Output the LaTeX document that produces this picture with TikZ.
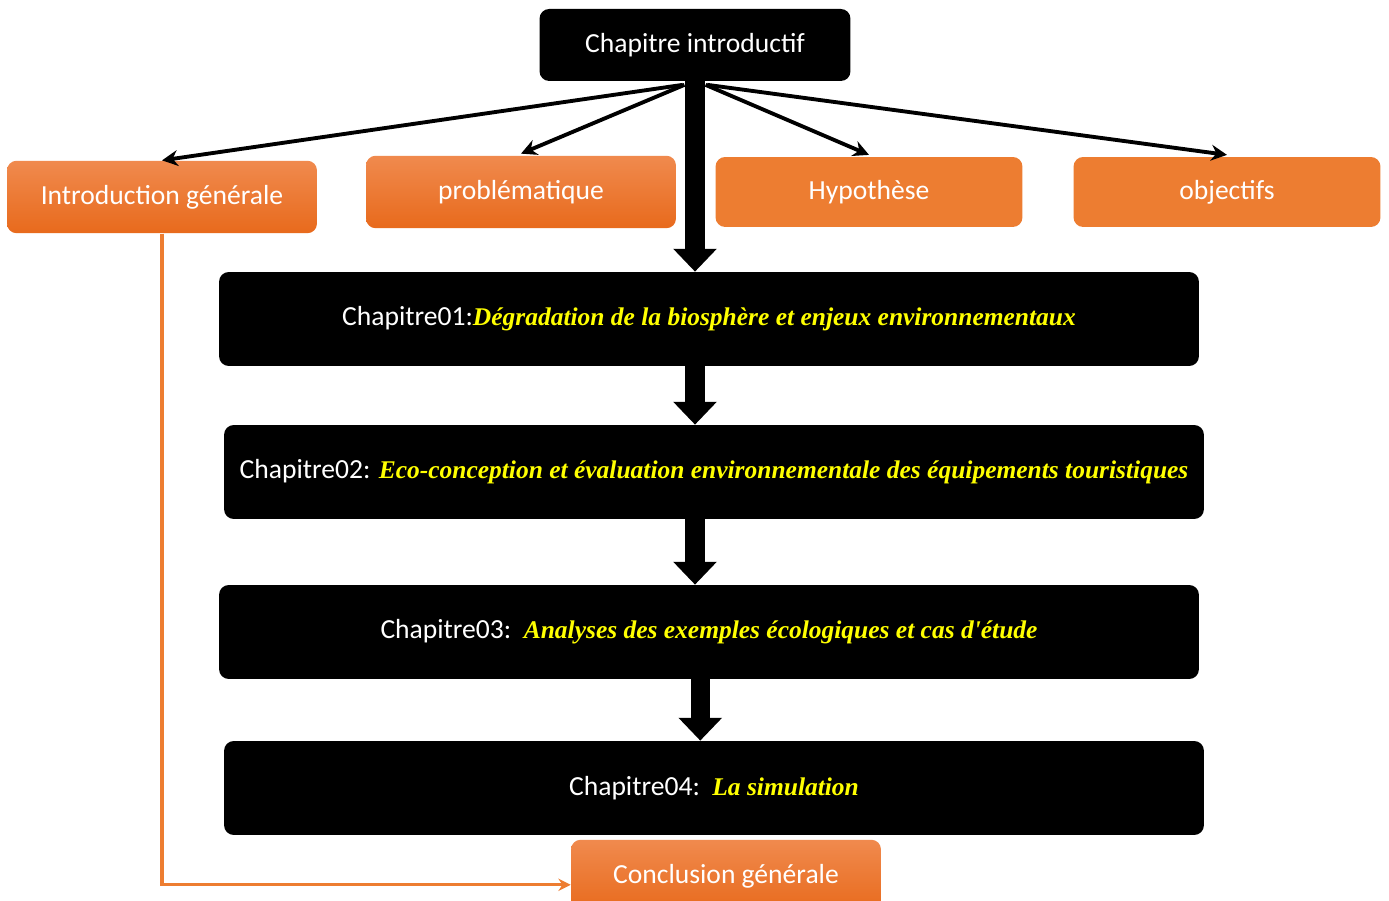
\documentclass[tikz,border=0pt]{standalone}
\usepackage{fontspec}
\setmainfont{Carlito}
\newfontfamily\titlefont{Liberation Serif}
\usetikzlibrary{arrows.meta,calc}
\definecolor{orangeflat}{HTML}{ED7D31}
\definecolor{orangetop}{HTML}{F08A4E}
\definecolor{orangebot}{HTML}{E86A1C}
\definecolor{titleyellow}{HTML}{FFFF00}
\newcommand{\chaptitle}[1]{{\titlefont\fontsize{14.5}{17}\selectfont\bfseries\itshape\color{titleyellow}#1}}
\begin{document}
\begin{tikzpicture}[x=0.02cm,y=-0.02cm,
  lbl/.style={font=\fontsize{15.7}{18}\selectfont, text=white},
  blackbox/.style={lbl, fill=black, rounded corners=5.5pt, inner sep=0pt},
  orangebox/.style={lbl, fill=orangeflat, rounded corners=5.5pt, inner sep=0pt,
    minimum width=6.14cm, minimum height=1.4cm},
  shadedbox/.style={lbl, top color=orangetop, bottom color=orangebot,
    rounded corners=5.5pt, inner sep=0pt, minimum width=6.2cm, minimum height=1.45cm},
  chapbox/.style={blackbox, minimum width=19.6cm, minimum height=1.88cm},
  thinarrow/.style={line width=2.2pt, -{Stealth[length=9pt,width=9pt]}},
  bigarrow/.style={line width=11pt, -{Triangle[length=13pt,width=24pt]}},
  linkline/.style={orangeflat, line width=1.8pt, -{Stealth[length=7pt,width=7pt]}}
]
\clip (0,0) rectangle (1389,901);
\fill[white] (0,0) rectangle (1389,901);

% top node and the four introductory items
\node[blackbox, minimum width=6.22cm, minimum height=1.44cm] (top) at (695,45) {Chapitre introductif};
\node[shadedbox] (intro) at (162,197) {Introduction générale};
\node[shadedbox] (prob) at (521,192) {problématique};
\node[orangebox] (hyp) at (869,192) {Hypothèse};
\node[orangebox] (obj) at (1227,192) {objectifs};

% chapters
\node[chapbox] (ch1) at (709,319) {Chapitre01:\chaptitle{Dégradation de la biosphère et enjeux environnementaux}};
\node[chapbox] (ch2) at (714,472) {Chapitre02: \chaptitle{Eco-conception et évaluation environnementale des équipements touristiques}};
\node[chapbox] (ch3) at (709,632) {Chapitre03:\ \ \chaptitle{Analyses des exemples écologiques et cas d'étude}};
\node[chapbox] (ch4) at (714,788) {Chapitre04:\ \ \chaptitle{La simulation}};

% conclusion
\node[shadedbox] (conc) at (726,876) {Conclusion générale};

% fan-out arrows from the introductory chapter
\draw[thinarrow] ([xshift=-7pt,yshift=-2pt]top.south) -- (intro.north);
\draw[thinarrow] ([xshift=-6pt,yshift=-2pt]top.south) -- ([yshift=1pt]prob.north);
\draw[thinarrow] ([xshift=6pt,yshift=-2pt]top.south) -- ([yshift=1pt]hyp.north);
\draw[thinarrow] ([xshift=7pt,yshift=-2pt]top.south) -- ([yshift=1pt]obj.north);

% main sequence of chapters
\draw[bigarrow] (top.south) -- (top.south |- ch1.north);
\draw[bigarrow] (top.south |- ch1.south) -- (top.south |- ch2.north);
\draw[bigarrow] (top.south |- ch2.south) -- (top.south |- ch3.north);
\draw[bigarrow] ([xshift=3pt]top.south |- ch3.south) -- ([xshift=3pt]top.south |- ch4.north);

% link from the general introduction to the conclusion
\draw[linkline] (intro.south) |- ([yshift=-5pt]conc.west);
\end{tikzpicture}
\end{document}
